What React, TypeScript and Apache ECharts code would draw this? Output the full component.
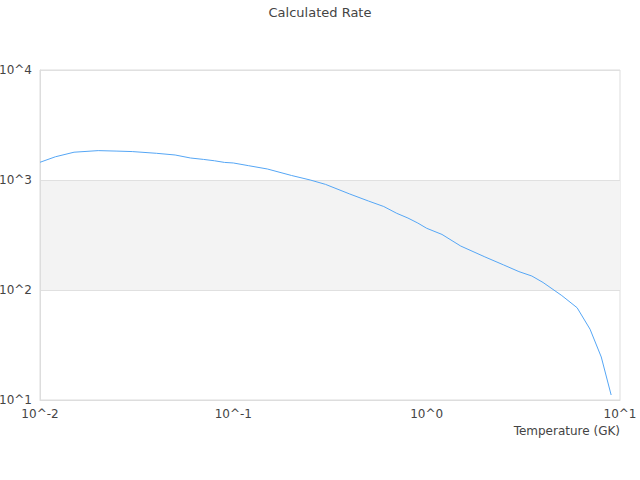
import React, { useEffect, useRef } from "react";
import * as echarts from "echarts";

const temperatures = [
  0.01, 0.012, 0.015, 0.02, 0.025, 0.03, 0.04, 0.05, 0.06, 0.07, 0.08, 0.09,
  0.1, 0.12, 0.15, 0.2, 0.25, 0.3, 0.4, 0.5, 0.6, 0.7, 0.8, 0.9, 1, 1.2, 1.5,
  2, 2.5, 3, 3.5, 4, 5, 6, 7, 8, 9,
];
const rates = [
  1449, 1625, 1789, 1850, 1831, 1813, 1749, 1688, 1585, 1539, 1495, 1445,
  1428, 1349, 1259, 1099, 1000, 912, 746, 644, 574, 498, 451, 406, 364, 320,
  251, 200, 169, 147, 134, 117, 89, 69, 44, 24.6, 11.1,
];
const titleText = "Calculated Rate";
const xAxisName = "Temperature (GK)";

const FONT = "DejaVu Sans";

export default function App() {
  const ref = useRef<HTMLDivElement>(null);
  useEffect(() => {
    if (!ref.current) return;
    const chart = echarts.init(ref.current, undefined, { renderer: "svg" });
    const fmt = (v: number) => "10^" + Math.round(Math.log10(v));
    chart.setOption({
      animation: false,
      textStyle: { fontFamily: FONT },
      title: {
        text: titleText,
        left: "center",
        top: 1,
        textStyle: { fontSize: 13, fontWeight: "normal", color: "#444", fontFamily: FONT },
      },
      grid: {
        left: 40,
        right: 20,
        top: 70,
        bottom: 80,
        show: true,
        borderColor: "#dddddd",
        borderWidth: 1,
        containLabel: false,
        outerBoundsMode: "none",
      },
      xAxis: {
        type: "log",
        logBase: 10,
        min: 0.01,
        max: 10,
        name: xAxisName,
        nameLocation: "end",
        nameGap: 0,
        nameTextStyle: {
          align: "right",
          verticalAlign: "top",
          padding: [25, 0, 0, 0],
          fontSize: 12,
          color: "#444",
          fontFamily: FONT,
        },
        axisLine: { show: true, lineStyle: { color: "#dddddd" } },
        axisTick: { show: false },
        splitLine: { show: false },
        axisLabel: { formatter: fmt, fontSize: 12, color: "#444", fontFamily: FONT, margin: 8 },
      },
      yAxis: {
        type: "log",
        logBase: 10,
        min: 10,
        max: 10000,
        axisLine: { show: true, lineStyle: { color: "#dddddd" } },
        axisTick: { show: false },
        splitLine: { show: true, lineStyle: { color: "#e0e0e0" } },
        splitArea: { show: true, areaStyle: { color: ["rgba(255,255,255,0)", "#f3f3f3"] } },
        axisLabel: { formatter: fmt, fontSize: 12, color: "#444", fontFamily: FONT, margin: 8 },
      },
      series: [
        {
          type: "line",
          data: temperatures.map((t, i) => [t, rates[i]]),
          showSymbol: false,
          symbol: "none",
          lineStyle: { color: "#55a6f5", width: 1 },
          itemStyle: { color: "#55a6f5" },
        },
      ],
    });
    return () => chart.dispose();
  }, []);
  return (
    <div
      ref={ref}
      style={{ position: "absolute", left: 0, top: 0, width: 640, height: 480 }}
    />
  );
}
